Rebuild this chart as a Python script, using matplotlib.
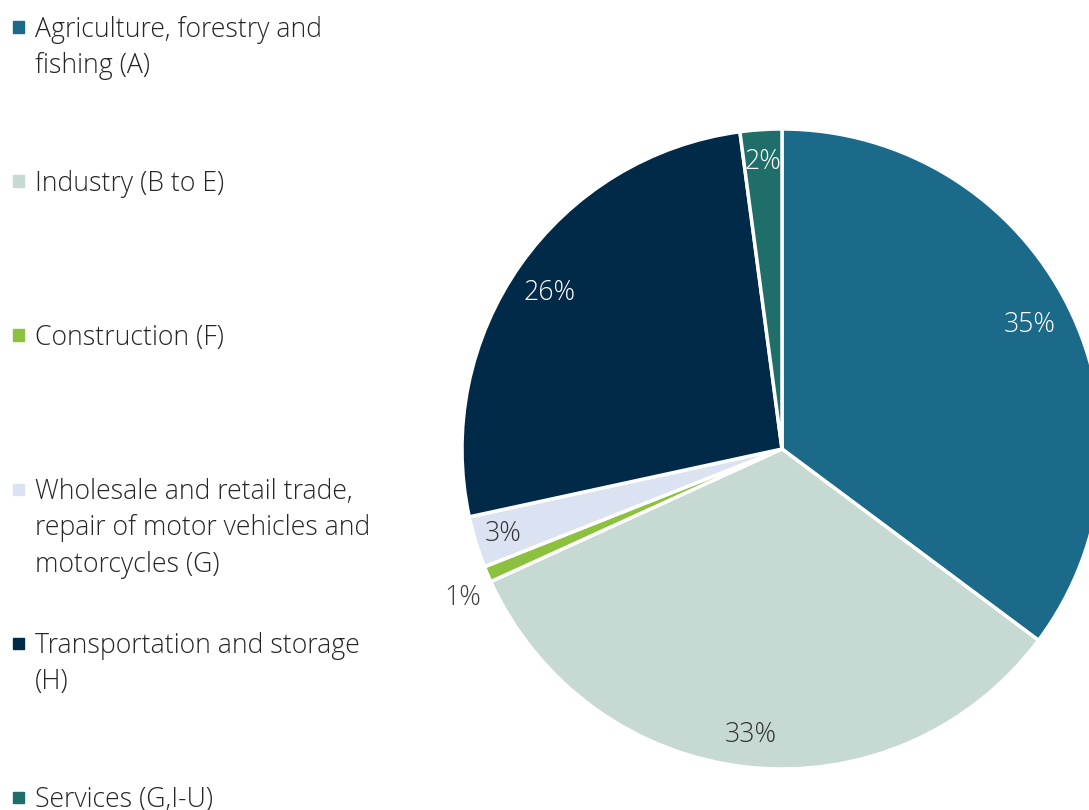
import numpy as np
import matplotlib
matplotlib.use("Agg")
import matplotlib.pyplot as plt
from matplotlib.patches import Rectangle

plt.rcParams["font.family"] = ["Open Sans", "DejaVu Sans"]

SECTORS = [
    "Agriculture, forestry and\nfishing (A)",
    "Industry (B to E)",
    "Construction (F)",
    "Wholesale and retail trade,\nrepair of motor vehicles and\nmotorcycles (G)",
    "Transportation and storage\n(H)",
    "Services (G,I-U)",
]
SHARES = [35.2, 33.0, 0.8, 2.6, 26.3, 2.1]
COLORS = ["#1c6a8a", "#c6d9d3", "#8cc03f", "#dbe3f3", "#002a48", "#1f6e69"]
LABEL_COLORS = ["white", "#333333", "#404040", "#333333", "white", "white"]
LABEL_DIST = [0.865, 0.9, 1.10, 0.91, 0.875, 0.9]
LABEL_NUDGE = [0, 0, 2.0, 0, 1.2, 0]  # degrees

W, H = 1089, 810
FS = 19.2
fig = plt.figure(figsize=(W / 100, H / 100), dpi=100)

# pie axes: centre (782, 449) px, radius 320 px, runs off the right edge
cx, cy, r = 782, 449, 320
ax = fig.add_axes([(cx - r) / W, (H - cy - r) / H, 2 * r / W, 2 * r / H])
wedges, _ = ax.pie(
    SHARES,
    colors=COLORS,
    startangle=90,
    counterclock=False,
    radius=1,
    wedgeprops=dict(edgecolor="white", linewidth=2.5),
)
ax.set_xlim(-1, 1)
ax.set_ylim(-1, 1)
ax.set_aspect("auto")
ax.axis("off")

total = sum(SHARES)
for w, val, d, nudge, tc in zip(wedges, SHARES, LABEL_DIST, LABEL_NUDGE, LABEL_COLORS):
    mid = np.deg2rad((w.theta1 + w.theta2) / 2 + nudge)
    ax.text(d * np.cos(mid), d * np.sin(mid), f"{val / total * 100:.0f}%",
            ha="center", va="center", fontsize=FS, color=tc,
            fontweight="light")

# legend on the left, one entry every 154 px
for i, (name, col) in enumerate(zip(SECTORS, COLORS)):
    y = 27 + 154 * i
    fig.patches.append(Rectangle((13 / W, 1 - (y + 5.5) / H), 11 / W, 11 / H,
                                 transform=fig.transFigure, color=col))
    fig.text(35 / W, 1 - (y - 11) / H, name, ha="left", va="top",
             fontsize=FS, color="#262626", fontweight="light",
             linespacing=1.4)

fig.savefig("out.png", dpi=100)
